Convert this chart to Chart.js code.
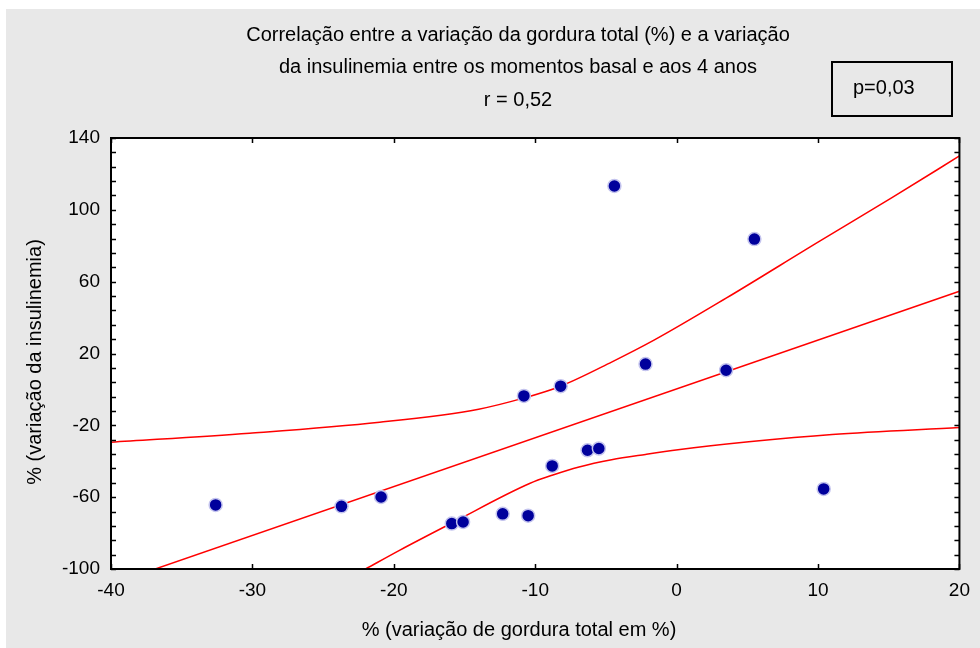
<!DOCTYPE html>
<html>
<head>
<meta charset="utf-8">
<script src="https://cdn.jsdelivr.net/npm/chart.js@4.4.1/dist/chart.umd.min.js"></script>
<style>
    html, body { margin: 0; padding: 0; background: #fff; }
    #wrap { width: 980px; height: 648px; }
</style>
</head>
<body>
<div id="wrap"><canvas id="myScatter" width="980" height="648"></canvas></div>
<script>
// points
const gorduraX = [-32.6, -23.7, -20.9, -15.9, -15.1, -12.3, -10.5, -10.8, -8.2, -8.8, -6.3, -5.5, -4.4, -2.2, 3.5, 5.5, 10.4];
const insulinaY = [-64.3, -65.1, -59.9, -74.7, -73.8, -69.3, -70.3, -3.6, 1.8, -42.6, -33.9, -32.9, 113.3, 14.1, 10.7, 83.7, -55.4];

// regression line and 95% bands
const regX = [-40, 20];
const regY = [-108.5, 54.7];
const upperX = [-40, -30.2, -21, -14, -10.9, -8.2, -4.6, -1.6, 3.5, 10, 15.2, 20];
const upperY = [-29.4, -24.4, -18.3, -11, -5, 1.8, 15.2, 27.4, 50.8, 82, 106.6, 130];
const lowerX = [-22, -19.6, -15.9, -10.4, -8.8, -6.9, -4.6, -2.2, 0.1, 5.1, 11, 20];
const lowerY = [-100, -89.6, -74.4, -52.4, -47.8, -43.2, -39.2, -36.2, -33.6, -29.2, -25.1, -21.2];

const xTicks = [-40, -30, -20, -10, 0, 10, 20];
const yTicks = [-100, -60, -20, 20, 60, 100, 140];
const yMinorStep = 8;

const titleLines = [
    "Correlação entre a variação da gordura total (%) e a variação",
    "da insulinemia entre os momentos basal e aos 4 anos",
    "r = 0,52"
];
const xTitle = "% (variação de gordura total em %)";
const yTitle = "% (variação da insulinemia)";
const pText = "p=0,03";

const FONT = "'Liberation Sans', Arial, Helvetica, sans-serif";

const toPts = (xs, ys) => xs.map((x, i) => ({ x: x, y: ys[i] }));

const framePlugin = {
    id: 'framePlugin',
    beforeDraw(chart) {
        const { ctx, chartArea: a } = chart;
        ctx.save();
        ctx.fillStyle = '#ffffff';
        ctx.fillRect(0, 0, chart.width, chart.height);
        ctx.fillStyle = '#e8e8e8';
        ctx.fillRect(6, 9, chart.width - 6, chart.height - 9);
        ctx.fillStyle = '#ffffff';
        ctx.fillRect(a.left, a.top, a.width, a.height);
        ctx.restore();
    },
    afterDatasetsDraw(chart) {
        const { ctx, chartArea: a, scales } = chart;
        ctx.save();
        ctx.strokeStyle = '#000';
        ctx.lineWidth = 1.5;
        ctx.beginPath();
        // x ticks, top and bottom, pointing in
        xTicks.forEach(v => {
            const px = Math.round(scales.x.getPixelForValue(v)) + 0.5;
            ctx.moveTo(px, a.bottom); ctx.lineTo(px, a.bottom - 5);
            ctx.moveTo(px, a.top); ctx.lineTo(px, a.top + 5);
        });
        // y minor ticks, left and right
        for (let v = yTicks[0]; v <= yTicks[yTicks.length - 1]; v += yMinorStep) {
            const py = Math.round(scales.y.getPixelForValue(v)) + 0.5;
            ctx.moveTo(a.left, py); ctx.lineTo(a.left + 5, py);
            ctx.moveTo(a.right, py); ctx.lineTo(a.right - 5, py);
        }
        ctx.stroke();
        ctx.lineWidth = 2;
        ctx.strokeRect(a.left, a.top, a.width, a.height);
        ctx.restore();
    },
    afterDraw(chart) {
        const { ctx } = chart;
        ctx.save();
        ctx.fillStyle = '#000';
        ctx.font = '20px ' + FONT;
        ctx.textAlign = 'center';
        ctx.textBaseline = 'alphabetic';
        const baselines = [41, 73, 106];
        titleLines.forEach((t, i) => ctx.fillText(t, 518, baselines[i]));

        ctx.fillText(xTitle, 519, 636);

        ctx.save();
        ctx.translate(41, 362);
        ctx.rotate(-Math.PI / 2);
        ctx.fillText(yTitle, 0, 0);
        ctx.restore();

        // p-value box
        ctx.lineWidth = 2;
        ctx.strokeStyle = '#000';
        ctx.strokeRect(832, 62, 120, 54);
        ctx.textAlign = 'left';
        ctx.fillText(pText, 853, 94);
        ctx.restore();
    }
};

new Chart(document.getElementById('myScatter'), {
    type: 'scatter',
    data: {
        datasets: [
            {
                label: 'dados',
                data: toPts(gorduraX, insulinaY),
                pointRadius: 6.5,
                pointBackgroundColor: '#00009c',
                pointBorderColor: '#c4c4ee',
                pointBorderWidth: 1.5,
            },
            {
                label: 'regressão',
                data: toPts(regX, regY),
                showLine: true,
                borderColor: '#ff0000',
                borderWidth: 1.5,
                pointRadius: 0,
                clip: 0,
            },
            {
                label: 'superior',
                data: toPts(upperX, upperY),
                showLine: true,
                borderColor: '#ff0000',
                borderWidth: 1.5,
                pointRadius: 0,
                cubicInterpolationMode: 'monotone',
                clip: 0,
            },
            {
                label: 'inferior',
                data: toPts(lowerX, lowerY),
                showLine: true,
                borderColor: '#ff0000',
                borderWidth: 1.5,
                pointRadius: 0,
                cubicInterpolationMode: 'monotone',
                clip: 0,
            },
        ],
    },
    options: {
        responsive: false,
        devicePixelRatio: 1,
        animation: false,
        layout: { padding: { left: 0, top: 138, right: 18, bottom: 0 } },
        plugins: {
            legend: { display: false },
            tooltip: { enabled: false },
            title: { display: false },
        },
        scales: {
            x: {
                type: 'linear',
                min: -40,
                max: 20,
                afterFit: s => { s.height = 79; },
                afterBuildTicks: s => { s.ticks = xTicks.map(v => ({ value: v })); },
                grid: { display: false, drawTicks: false },
                border: { display: false },
                ticks: { color: '#000', font: { family: FONT, size: 19 }, padding: 10, maxRotation: 0 },
            },
            y: {
                type: 'linear',
                min: -100,
                max: 140,
                afterFit: s => { s.width = 111; },
                afterBuildTicks: s => { s.ticks = yTicks.map(v => ({ value: v })); },
                grid: { display: false, drawTicks: false },
                border: { display: false },
                ticks: { color: '#000', font: { family: FONT, size: 19 }, padding: 11 },
            },
        },
    },
    plugins: [framePlugin],
});
</script>
</body>
</html>
